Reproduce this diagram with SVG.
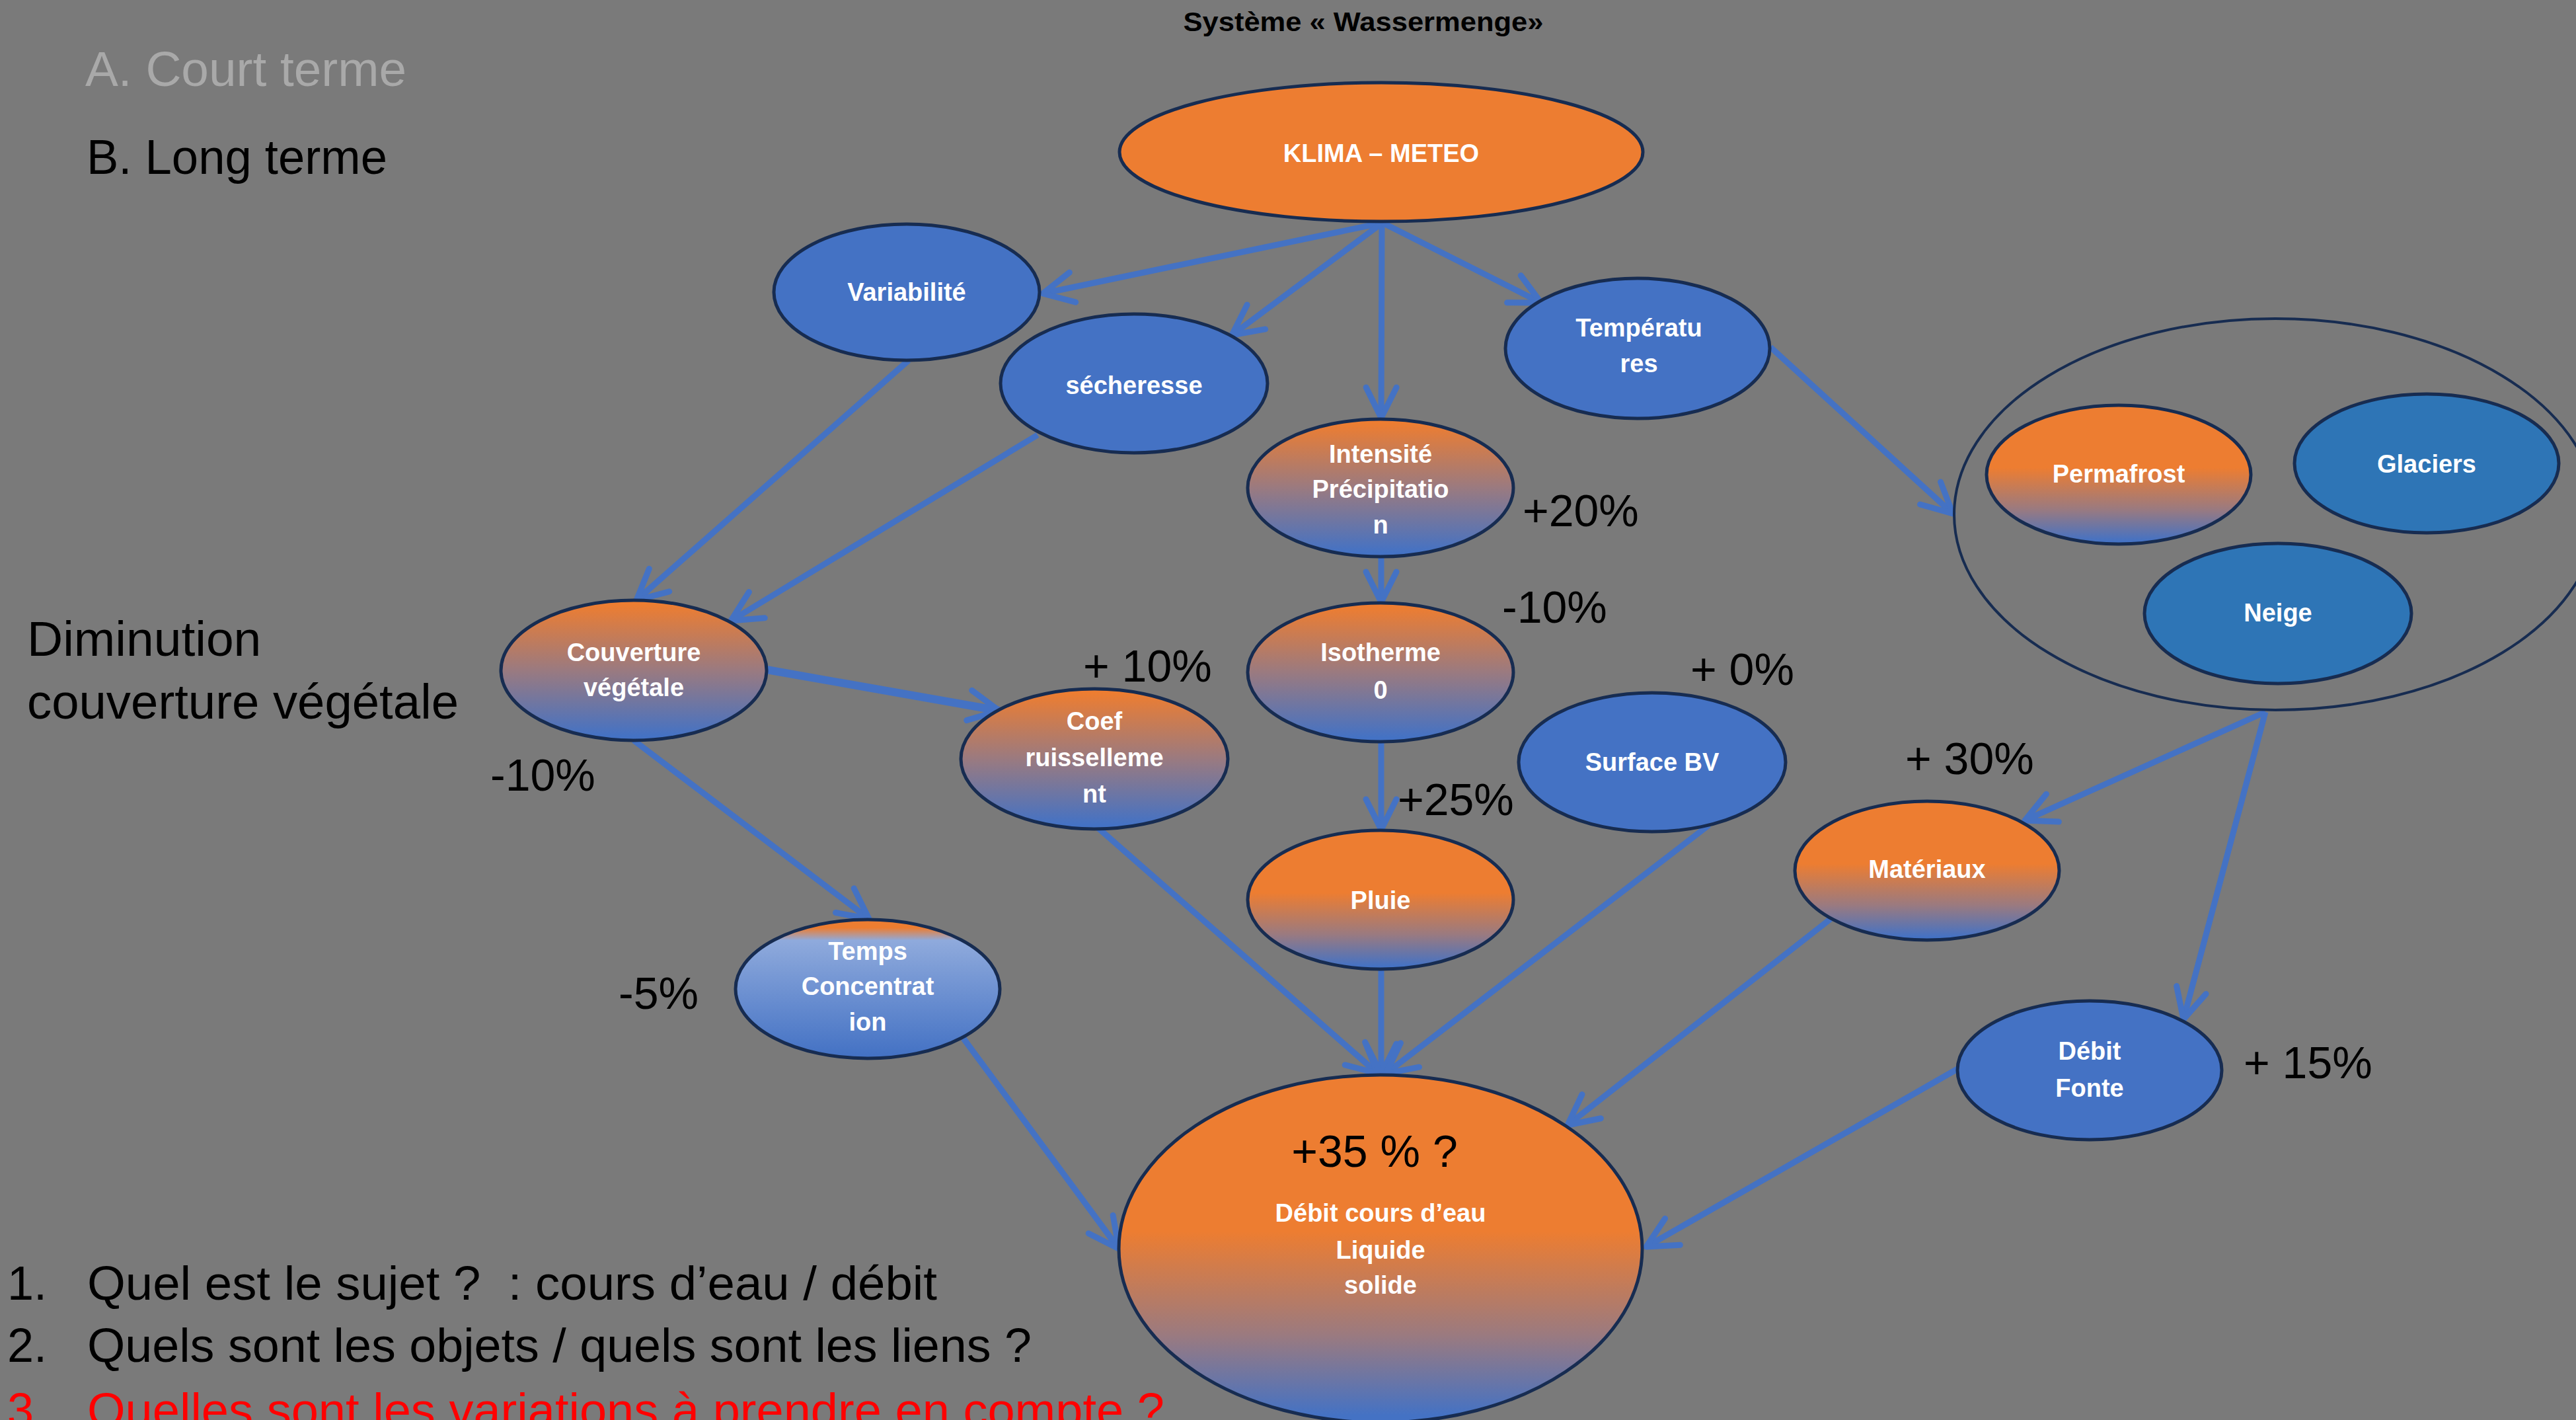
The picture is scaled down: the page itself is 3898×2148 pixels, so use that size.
<svg xmlns="http://www.w3.org/2000/svg" width="3898" height="2148" viewBox="0 0 3898 2148">
<defs>
<style>
.bg{fill:#7a7a7a}
.node{stroke:#172c51;stroke-width:5}
.blue{fill:#4472c4}
.dblue{fill:#2e75b6}
.orange{fill:#ed7d31}
.lbl{font-family:"Liberation Sans",Arial,sans-serif;font-weight:bold;font-size:38px;fill:#ffffff;text-anchor:middle}
.pct{font-family:"Liberation Sans",Arial,sans-serif;font-size:68px;fill:#000000}
.big{font-family:"Liberation Sans",Arial,sans-serif;font-size:75px;fill:#000000}
.q{font-family:"Liberation Sans",Arial,sans-serif;font-size:72px;fill:#000000}
.conn line{stroke:#4472c4;stroke-width:9;fill:none;marker-end:url(#arr)}
</style>
<marker id="arr" markerUnits="userSpaceOnUse" markerWidth="120" markerHeight="120" refX="0" refY="0" orient="auto" overflow="visible" viewBox="-60 -60 120 120">
<path d="M-46,-23 L0,0 L-46,23" fill="none" stroke="#4472c4" stroke-width="9" stroke-linecap="round" stroke-linejoin="round"/>
</marker>
<linearGradient id="gFull" x1="0" y1="0" x2="0" y2="1">
<stop offset="0.03" stop-color="#ed7d31"/>
<stop offset="0.5" stop-color="#9a7a80"/>
<stop offset="0.97" stop-color="#4472c4"/>
</linearGradient>
<linearGradient id="gHalf" x1="0" y1="0" x2="0" y2="1">
<stop offset="0.45" stop-color="#ed7d31"/>
<stop offset="0.75" stop-color="#9a7a80"/>
<stop offset="0.98" stop-color="#4472c4"/>
</linearGradient>
<linearGradient id="gTemps" x1="0" y1="0" x2="0" y2="1">
<stop offset="0.06" stop-color="#ed7d31"/>
<stop offset="0.15" stop-color="#8faadc"/>
<stop offset="0.98" stop-color="#4472c4"/>
</linearGradient>
</defs>
<rect class="bg" x="0" y="0" width="3898" height="2148"/>

<g id="connectors" class="conn">
<line x1="2092" y1="337" x2="1578" y2="444"/>
<line x1="2092" y1="337" x2="1864" y2="507"/>
<line x1="2091" y1="337" x2="2090" y2="632"/>
<line x1="2092" y1="337" x2="2332" y2="458"/>
<line x1="2679" y1="525" x2="2955" y2="777"/>
<line x1="1375" y1="545" x2="963" y2="908"/>
<line x1="1570" y1="658" x2="1106" y2="939"/>
<line x1="1160" y1="1013" x2="1512" y2="1075" style="stroke-width:12"/>
<line x1="959" y1="1120" x2="1315" y2="1390"/>
<line x1="2090" y1="842" x2="2090" y2="911"/>
<line x1="2090" y1="1123" x2="2090" y2="1255"/>
<line x1="1660" y1="1251" x2="2085" y2="1624"/>
<line x1="2090" y1="1466" x2="2090" y2="1625"/>
<line x1="2586" y1="1248" x2="2097" y2="1624"/>
<line x1="2770" y1="1390" x2="2372" y2="1702"/>
<line x1="2962" y1="1617" x2="2491" y2="1886"/>
<line x1="1458" y1="1571" x2="1693" y2="1889"/>
<line x1="3428" y1="1077" x2="3064" y2="1241"/>
<line x1="3428" y1="1077" x2="3304" y2="1542"/>
</g>

<g id="title"><text x="2063" y="47" font-family="Liberation Sans, Arial, sans-serif" font-weight="bold" font-size="41" fill="#000" text-anchor="middle" textLength="545" lengthAdjust="spacingAndGlyphs">Système « Wassermenge»</text></g>
<g id="headA"><text class="big" x="129" y="130" style="fill:#a9a9a9" textLength="486" lengthAdjust="spacingAndGlyphs">A. Court terme</text></g>
<g id="headB"><text class="big" x="131" y="263" textLength="455" lengthAdjust="spacingAndGlyphs">B. Long terme</text></g>
<g id="dimin"><text class="big" x="41" y="992">Diminution</text><text class="big" x="41" y="1087" textLength="653" lengthAdjust="spacingAndGlyphs">couverture végétale</text></g>

<g id="klima"><ellipse class="node orange" cx="2090" cy="230" rx="396" ry="105"/><text class="lbl" x="2090" y="245">KLIMA – METEO</text></g>
<g id="variabilite"><ellipse class="node blue" cx="1372" cy="442" rx="201" ry="103"/><text class="lbl" x="1372" y="455">Variabilité</text></g>
<g id="secheresse"><ellipse class="node blue" cx="1716" cy="580" rx="202" ry="105"/><text class="lbl" x="1716" y="596">sécheresse</text></g>
<g id="temperatures"><ellipse class="node blue" cx="2478" cy="527" rx="200" ry="106"/><text class="lbl" x="2480" y="509">Températu</text><text class="lbl" x="2480" y="563">res</text></g>
<g id="intensite"><ellipse class="node" fill="url(#gFull)" cx="2089" cy="738" rx="201" ry="104"/><text class="lbl" x="2089" y="700">Intensité</text><text class="lbl" x="2089" y="753">Précipitatio</text><text class="lbl" x="2089" y="807">n</text></g>
<g id="isotherme"><ellipse class="node" fill="url(#gFull)" cx="2089" cy="1017" rx="201" ry="105"/><text class="lbl" x="2089" y="1000">Isotherme</text><text class="lbl" x="2089" y="1057">0</text></g>
<g id="pluie"><ellipse class="node" fill="url(#gHalf)" cx="2089" cy="1361" rx="201" ry="105"/><text class="lbl" x="2089" y="1375">Pluie</text></g>
<g id="couverture"><ellipse class="node" fill="url(#gFull)" cx="959" cy="1014" rx="201" ry="106"/><text class="lbl" x="959" y="1000">Couverture</text><text class="lbl" x="959" y="1053">végétale</text></g>
<g id="coef"><ellipse class="node" fill="url(#gFull)" cx="1656" cy="1148" rx="202" ry="106"/><text class="lbl" x="1656" y="1104">Coef</text><text class="lbl" x="1656" y="1159">ruisselleme</text><text class="lbl" x="1656" y="1214">nt</text></g>
<g id="surface"><ellipse class="node blue" cx="2500" cy="1153" rx="202" ry="105"/><text class="lbl" x="2500" y="1166">Surface BV</text></g>
<g id="materiaux"><ellipse class="node" fill="url(#gHalf)" cx="2916" cy="1317" rx="200" ry="105"/><text class="lbl" x="2916" y="1328">Matériaux</text></g>
<g id="temps"><ellipse class="node" fill="url(#gTemps)" cx="1313" cy="1496" rx="200" ry="105"/><text class="lbl" x="1313" y="1452">Temps</text><text class="lbl" x="1313" y="1505">Concentrat</text><text class="lbl" x="1313" y="1559">ion</text></g>
<g id="debitfonte"><ellipse class="node blue" cx="3162" cy="1619" rx="200" ry="105"/><text class="lbl" x="3162" y="1603">Débit</text><text class="lbl" x="3162" y="1659">Fonte</text></g>
<g id="debit"><ellipse class="node" fill="url(#gHalf)" cx="2089" cy="1889" rx="396" ry="263"/><text x="2080" y="1765" font-family="Liberation Sans, Arial, sans-serif" font-size="68" fill="#000" text-anchor="middle">+35 % ?</text><text class="lbl" x="2089" y="1848">Débit cours d’eau</text><text class="lbl" x="2089" y="1904">Liquide</text><text class="lbl" x="2089" y="1957">solide</text></g>
<g id="groupe"><ellipse cx="3443" cy="778" rx="486" ry="296" fill="none" stroke="#172c51" stroke-width="4"/></g>
<g id="permafrost"><ellipse class="node" fill="url(#gHalf)" cx="3206" cy="718" rx="200" ry="105"/><text class="lbl" x="3206" y="730">Permafrost</text></g>
<g id="glaciers"><ellipse class="node dblue" cx="3672" cy="701" rx="200" ry="105"/><text class="lbl" x="3672" y="715">Glaciers</text></g>
<g id="neige"><ellipse class="node dblue" cx="3447" cy="928" rx="202" ry="106"/><text class="lbl" x="3447" y="940">Neige</text></g>

<g id="percents">
<text class="pct" x="2304" y="796">+20%</text>
<text class="pct" x="2273" y="942">-10%</text>
<text class="pct" x="1639" y="1031">+ 10%</text>
<text class="pct" x="2558" y="1036">+ 0%</text>
<text class="pct" x="2115" y="1233">+25%</text>
<text class="pct" x="2883" y="1171">+ 30%</text>
<text class="pct" x="3395" y="1631">+ 15%</text>
<text class="pct" x="742" y="1196">-10%</text>
<text class="pct" x="936" y="1526">-5%</text>
</g>

<g id="questions">
<text class="q" x="11" y="1966">1.</text><text class="q" x="132" y="1966" textLength="1286" lengthAdjust="spacingAndGlyphs">Quel est le sujet ?&#160; : cours d’eau / débit</text>
<text class="q" x="11" y="2060">2.</text><text class="q" x="132" y="2060" textLength="1429" lengthAdjust="spacingAndGlyphs">Quels sont les objets / quels sont les liens ?</text>
<text class="q" x="11" y="2158" style="fill:#ff0000">3.</text><text class="q" x="132" y="2158" style="fill:#ff0000" textLength="1630" lengthAdjust="spacingAndGlyphs">Quelles sont les variations à prendre en compte ?</text>
</g>
</svg>
